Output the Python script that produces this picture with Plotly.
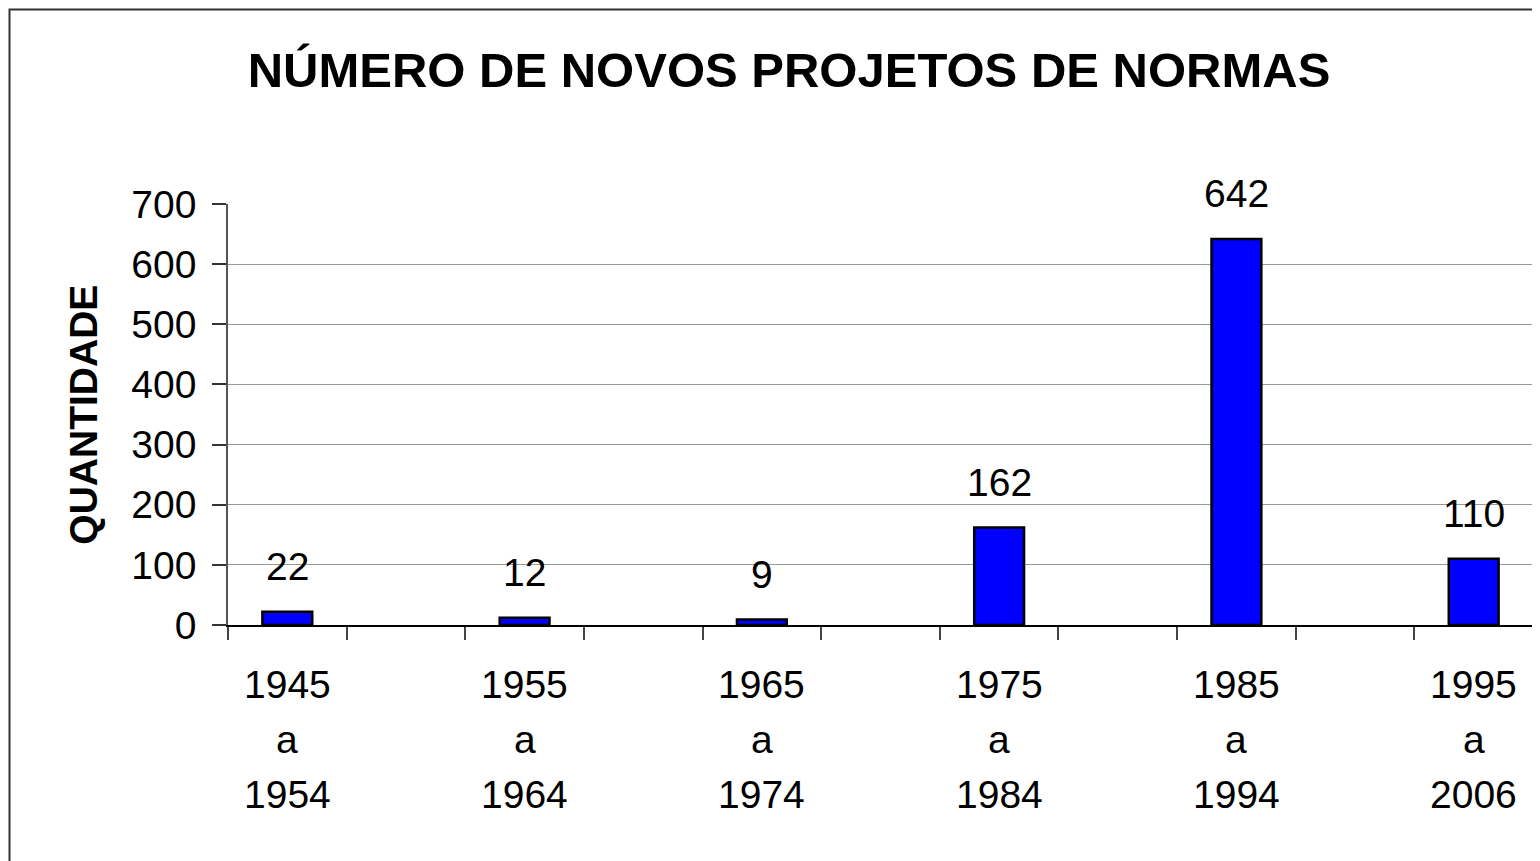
import plotly.graph_objects as go

# categorias (11 posicoes; as impares ficam vazias, como no grafico original)
periodos = ["1945<br>a<br>1954", "1955<br>a<br>1964", "1965<br>a<br>1974",
            "1975<br>a<br>1984", "1985<br>a<br>1994", "1995<br>a<br>2006"]
posicoes = [0, 2, 4, 6, 8, 10]
quantidade = [22, 12, 9, 162, 642, 110]
y_ticks = [0, 100, 200, 300, 400, 500, 600, 700]

FONT = "Liberation Sans, Arial, sans-serif"

fig = go.Figure()
fig.add_trace(go.Bar(
    x=posicoes,
    y=quantidade,
    width=0.42,
    marker=dict(color="#0000FF", line=dict(color="black", width=2.5)),
    hoverinfo="x+y",
))

# rotulos de dados acima das barras
for xp, v in zip(posicoes, quantidade):
    fig.add_annotation(
        x=xp, y=v, text=str(v), showarrow=False,
        yanchor="bottom", yshift=22,
        font=dict(family=FONT, size=39, color="black"),
    )

# rotulos das categorias (tres linhas com espacamento maior)
for xp, lab in zip(posicoes, periodos):
    for i, linha in enumerate(lab.split("<br>")):
        fig.add_annotation(
            x=xp, xref="x", y=0, yref="paper", text=linha, showarrow=False,
            yanchor="middle", yshift=-59 - 55 * i,
            font=dict(family=FONT, size=39, color="black"),
        )

# titulo do eixo y
fig.add_annotation(
    x=-0.111, xref="paper", y=0.5, yref="paper", text="<b>QUANTIDADE</b>",
    textangle=-90, showarrow=False, xanchor="center", yanchor="middle",
    font=dict(family=FONT, size=39, color="black"),
)

# moldura externa (so a esquerda e o topo aparecem)
fig.add_shape(
    type="rect", xref="paper", yref="paper",
    x0=(9.5 - 228) / 1305, x1=1.2, y0=-0.8, y1=(625 - 9.5) / 421,
    line=dict(color="#333333", width=2), layer="below",
)

fig.update_xaxes(
    range=[-0.5, 10.5],
    showticklabels=False,
    ticks="",
    showgrid=False,
    zeroline=False,
    showline=True, linecolor="black", linewidth=1.5,
    minor=dict(tickvals=[k - 0.5 for k in range(12)], ticks="outside",
               ticklen=13, tickcolor="#444444", tickwidth=1.5, showgrid=False),
)
fig.update_yaxes(
    range=[0, 700],
    tickvals=y_ticks,
    ticks="outside", ticklen=14, tickcolor="#333333", tickwidth=1.5,
    ticklabelstandoff=8,
    tickfont=dict(family=FONT, size=39, color="black"),
    showgrid=True, gridcolor="#999999", gridwidth=1,
    zeroline=False,
    showline=True, linecolor="#555555", linewidth=1.5,
)

# a pagina html desloca a figura 8px (margem do body)
fig.update_layout(
    width=1540, height=861,
    margin=dict(l=220, r=15, t=196, b=244),
    paper_bgcolor="white", plot_bgcolor="white",
    showlegend=False,
    title=dict(
        text="<b>NÚMERO DE NOVOS PROJETOS DE NORMAS</b>",
        x=781 / 1540, xanchor="center", xref="container",
        y=1 - 62 / 861, yanchor="middle", yref="container",
        font=dict(family=FONT, size=49, color="black"),
    ),
    font=dict(family=FONT, color="black"),
)

fig.write_html("out.html")
